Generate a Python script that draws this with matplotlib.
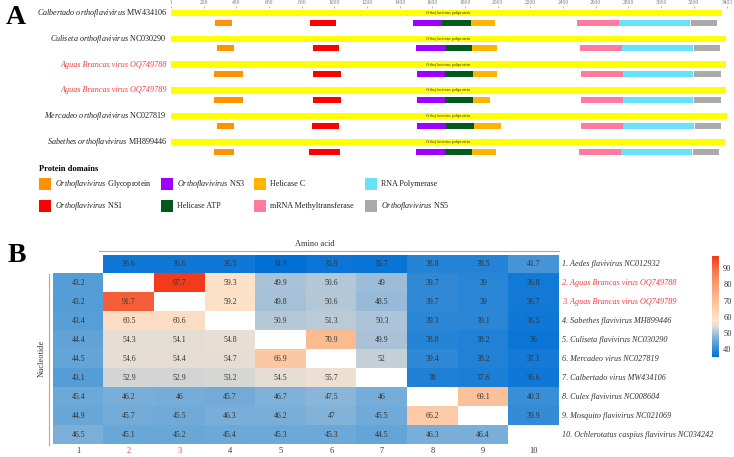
import numpy as np
import matplotlib
matplotlib.use("Agg")
import matplotlib.pyplot as plt
from matplotlib.colors import LinearSegmentedColormap
from matplotlib.patches import Rectangle

plt.rcParams['font.family'] = ['Liberation Serif', 'DejaVu Serif']
plt.rcParams['mathtext.fontset'] = 'custom'
plt.rcParams['mathtext.rm'] = 'Liberation Serif'
plt.rcParams['mathtext.it'] = 'Liberation Serif:italic'

# ---- panel A data (amino acid positions) ----
virus_names = ["Calbertado orthoflavivirus", "Culiseta orthoflavivirus", "Aguas Brancas virus",
               "Aguas Brancas virus", "Mercadeo orthoflavivirus", "Sabethes orthoflavivirus"]
accessions = ["MW434106", "NC030290", "OQ749788", "OQ749789", "NC027819", "MH899446"]
highlight = [False, False, True, True, False, False]
poly_end = [3370, 3394, 3394, 3394, 3400, 3388]

glyco_start = [269, 281, 262, 262, 281, 262]
glyco_end = [372, 385, 440, 440, 385, 385]
ns1_start = [849, 867, 867, 867, 861, 843]
ns1_end = [1013, 1032, 1044, 1044, 1032, 1038]
ns3_start = [1483, 1502, 1508, 1508, 1508, 1502]
ns3_end = [1660, 1685, 1679, 1679, 1685, 1679]
hatp_end = [1837, 1844, 1850, 1850, 1856, 1844]
helc_end = [1984, 1996, 1996, 1954, 2020, 1990]
mtase_start = [2485, 2503, 2509, 2509, 2509, 2497]
mtase_end = [2741, 2760, 2766, 2766, 2766, 2753]
rdrp_end = [3175, 3193, 3193, 3193, 3199, 3187]
ns5_start = [3181, 3199, 3199, 3199, 3205, 3193]
ns5_end = [3340, 3358, 3364, 3364, 3364, 3352]

genome_ticks = [1, 200, 400, 600, 800, 1000, 1200, 1400, 1600, 1800, 2000,
                2200, 2400, 2600, 2800, 3000, 3200, 3403]

# ---- panel B data: upper triangle amino acid, lower triangle nucleotide ----
heat_labels = ["1. Aedes flavivirus NC012932", "2. Aguas Brancas virus OQ749788",
               "3. Aguas Brancas virus OQ749789", "4. Sabethes flavivirus MH899446",
               "5. Culiseta flavivirus NC030290", "6. Mercadeo virus NC027819",
               "7. Calbertado virus MW434106", "8. Culex flavivirus NC008604",
               "9. Mosquito flavivirus NC021069", "10. Ochlerotatus caspius flavivirus NC034242"]
col_labels = ["1", "2", "3", "4", "5", "6", "7", "8", "9", "10"]
red_idx = [1, 2]
identity = [
    [None, 36.6, 36.6, 36.5, 34.9, 35.9, 35.7, 38.8, 38.5, 41.7],
    [43.2, None, 97.7, 59.3, 49.9, 50.6, 49, 39.7, 39, 36.8],
    [43.2, 91.7, None, 59.2, 49.8, 50.6, 48.5, 39.7, 39, 36.7],
    [43.4, 60.5, 60.6, None, 50.9, 51.3, 50.3, 39.3, 39.1, 36.5],
    [44.4, 54.3, 54.1, 54.8, None, 70.9, 49.9, 38.8, 38.2, 36],
    [44.5, 54.6, 54.4, 54.7, 66.9, None, 52, 39.4, 38.2, 37.1],
    [43.1, 52.9, 52.9, 53.2, 54.5, 55.7, None, 38, 37.6, 36.6],
    [45.4, 46.2, 46, 45.7, 46.7, 47.5, 46, None, 69.1, 40.3],
    [44.9, 45.7, 45.5, 46.3, 46.2, 47, 45.5, 66.2, None, 39.9],
    [46.5, 45.1, 45.2, 45.4, 45.3, 45.3, 44.5, 46.3, 46.4, None],
]

W, H = 734, 457
RED = '#f03c3c'
fig = plt.figure(figsize=(W / 100, H / 100), dpi=100)

def box(x0, y0, x1, y1):
    return [x0 / W, 1 - y1 / H, (x1 - x0) / W, (y1 - y0) / H]

# overlay axes in pixel units for free text
ov = fig.add_axes([0, 0, 1, 1])
ov.set_xlim(0, W)
ov.set_ylim(H, 0)
ov.axis('off')

# ---------------- panel A ----------------
ax = fig.add_axes(box(171, 8, 727, 160))
ax.set_xlim(1, 3403)
ax.set_ylim(160, 8)
for s in ax.spines.values():
    s.set_visible(False)
ax.xaxis.tick_top()
ax.set_xticks(genome_ticks)
ax.set_xticklabels([str(t) for t in genome_ticks])
ax.tick_params(axis='x', labelsize=4, colors='#777777', length=1.5, width=0.4, pad=0.5)
ax.set_yticks([])

domains = [
    (glyco_start, glyco_end, '#ff9200'),
    (ns1_start, ns1_end, '#ff0000'),
    (ns3_start, ns3_end, '#9d00ff'),
    (ns3_end, hatp_end, '#005a1e'),
    (hatp_end, helc_end, '#ffb400'),
    (mtase_start, mtase_end, '#ff7a9c'),
    (mtase_end, rdrp_end, '#66e3fb'),
    (ns5_start, ns5_end, '#aaaaaa'),
]

for i in range(len(virus_names)):
    yp = 13 + 25.8 * i
    yd = yp + 9.5
    ax.barh(yp, poly_end[i] - 1, left=1, height=6.5, color='#ffff00', linewidth=0)
    ax.text(1697, yp, r"$\it{Orthoflavivirus}$ poliprotein", fontsize=3, ha='center',
            va='center', color='#333333')
    for st, en, c in domains:
        ax.barh(yd, en[i] - st[i], left=st[i], height=6, color=c, linewidth=0)
    if highlight[i]:
        ov.text(167, yp, f"{virus_names[i]} {accessions[i]}", ha='right', va='center',
                fontsize=5.9, style='italic', color=RED)
    else:
        nm = virus_names[i].replace(" ", r"\ ")
        ov.text(167, yp, rf"$\it{{{nm}}}$ {accessions[i]}", ha='right', va='center',
                fontsize=5.9, color='#222222')

ov.text(16, 17, "A", fontsize=20, fontweight='bold', ha='center', va='center')

# legend
ov.text(39, 169, "Protein domains", fontsize=6, fontweight='bold', va='center')
legend_items = [
    (39, 184, '#ff9200', r"$\it{Orthoflavivirus}$ Glycoprotein"),
    (39, 206, '#ff0000', r"$\it{Orthoflavivirus}$ NS1"),
    (161, 184, '#9d00ff', r"$\it{Orthoflavivirus}$ NS3"),
    (161, 206, '#005a1e', "Helicase ATP"),
    (254, 184, '#ffb400', "Helicase C"),
    (254, 206, '#ff7a9c', "mRNA Methyltransferase"),
    (365, 184, '#66e3fb', "RNA Polymerase"),
    (365, 206, '#aaaaaa', r"$\it{Orthoflavivirus}$ NS5"),
]
for x, y, c, lab in legend_items:
    ov.add_patch(Rectangle((x, y - 6), 12, 12, color=c, linewidth=0))
    ov.text(x + 16, y, lab, fontsize=5.9, va='center', color='#222222')

# ---------------- panel B ----------------
ov.text(17, 256, "B", fontsize=20, fontweight='bold', ha='center', va='center')

mat = np.array([[np.nan if v is None else v for v in row] for row in identity])
vmin, vmax = np.nanmin(mat), np.nanmax(mat)

def frac(v):
    return (v - vmin) / (vmax - vmin)

cmap = LinearSegmentedColormap.from_list("idn", [
    (0.0, '#0070d6'),
    (frac(45), '#6aa8d8'),
    (frac(50), '#aac3d8'),
    (frac(54), '#e3ddd5'),
    (frac(58), '#fde4cf'),
    (frac(70), '#fcbf94'),
    (frac(85), '#f88a5e'),
    (1.0, '#f23a1c'),
])
cmap.set_bad('white')

hx0, hy0, hx1, hy1 = 53, 254.5, 559, 444.5
hax = fig.add_axes(box(hx0, hy0, hx1, hy1))
im = hax.imshow(np.ma.masked_invalid(mat), cmap=cmap, vmin=vmin, vmax=vmax, aspect='auto')
for s in hax.spines.values():
    s.set_visible(False)
hax.set_yticks([])
hax.set_xticks(range(10))
hax.set_xticklabels(col_labels)
hax.tick_params(axis='x', length=0, labelsize=6, pad=2, colors='#333333')
for k in red_idx:
    hax.get_xticklabels()[k].set_color(RED)
for r in range(10):
    for c in range(10):
        if not np.isnan(mat[r, c]):
            hax.text(c, r, f"{mat[r, c]:g}", ha='center', va='center', fontsize=5.6,
                     color='#333333')

row_h = (hy1 - hy0) / 10
for r, lab in enumerate(heat_labels):
    ov.text(562, hy0 + row_h * (r + 0.5), lab, fontsize=5.9, style='italic', va='center',
            color=RED if r in red_idx else '#333333')

# amino acid / nucleotide brackets
col_w = (hx1 - hx0) / 10
ov.plot([hx0 + col_w - 5, hx1], [251, 251], color='#aaaaaa', lw=0.8)
ov.text(315, 244, "Amino acid", fontsize=6, ha='center', va='center', color='#333333')
ov.plot([49, 49], [hy0 + row_h, hy1], color='#aaaaaa', lw=0.8)
ov.text(42, 358, "Nucleotide", fontsize=6, rotation=90, ha='center', va='center',
        color='#333333')

# colorbar
cax = fig.add_axes(box(712, 256, 719, 357))
cb = fig.colorbar(im, cax=cax)
cb.outline.set_visible(False)
cb.set_ticks([40, 50, 60, 70, 80, 90])
cax.tick_params(length=0, labelsize=6, pad=3, colors='#333333')

fig.savefig("out.png", dpi=100)
